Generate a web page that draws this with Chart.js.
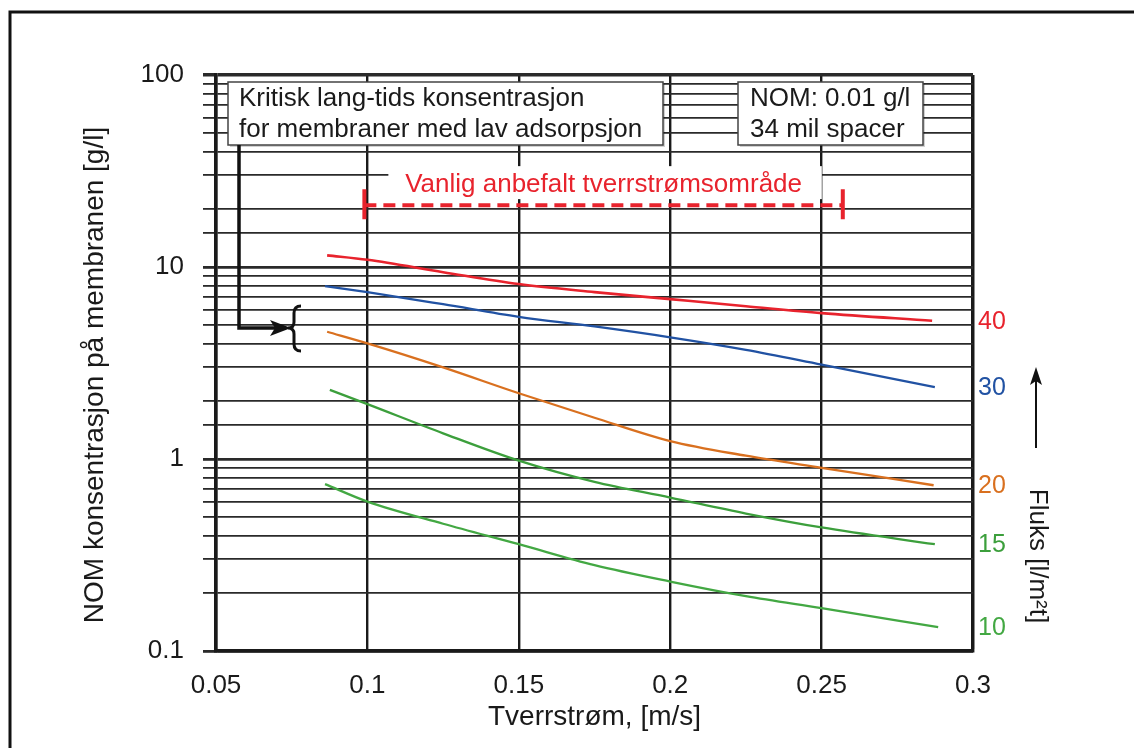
<!DOCTYPE html>
<html>
<head>
<meta charset="utf-8">
<script src="https://cdn.jsdelivr.net/npm/chart.js@4.4.1/dist/chart.umd.min.js"></script>
<style>
  html, body { margin: 0; padding: 0; background: #fff; }
  canvas { display: block; }
</style>
</head>
<body>
<canvas id="fluxChart" width="1134" height="748"></canvas>
<script>
const FONT = '"Liberation Sans", Arial, Helvetica, sans-serif';

// Tverrstrøm [m/s] og NOM-konsentrasjon [g/l] for hver fluks
const flux40X = [0.0867, 0.1, 0.125, 0.15, 0.175, 0.2, 0.225, 0.25, 0.2865];
const flux40Y = [11.5, 10.9, 9.4, 8.15, 7.4, 6.8, 6.25, 5.75, 5.25];

const flux30X = [0.086, 0.1, 0.125, 0.15, 0.175, 0.2, 0.225, 0.25, 0.2874];
const flux30Y = [7.95, 7.4, 6.4, 5.5, 4.9, 4.3, 3.7, 3.1, 2.37];

const flux20X = [0.0867, 0.1, 0.125, 0.15, 0.175, 0.2, 0.225, 0.25, 0.287];
const flux20Y = [4.6, 4.0, 3.0, 2.2, 1.64, 1.24, 1.04, 0.9, 0.73];

const flux15X = [0.0876, 0.1, 0.125, 0.15, 0.175, 0.2, 0.225, 0.25, 0.2874];
const flux15Y = [2.29, 1.93, 1.36, 0.98, 0.76, 0.63, 0.52, 0.44, 0.36];

const flux10X = [0.086, 0.1, 0.125, 0.15, 0.175, 0.2, 0.225, 0.25, 0.2885];
const flux10Y = [0.74, 0.6, 0.46, 0.36, 0.28, 0.23, 0.193, 0.167, 0.133];

const fluxNames = ['40', '30', '20', '15', '10'];
const fluxColors = ['#e8232d', '#2152a3', '#d9701f', '#3c9f3c', '#43a843'];

// anbefalt tverrstrømsområde
const rangeStart = 0.099;
const rangeEnd = 0.257;
const rangeLevel = 21;

const xTicks = [0.05, 0.1, 0.15, 0.2, 0.25, 0.3];

function toPoints(xs, ys) {
    return xs.map((v, i) => ({ x: v, y: ys[i] }));
}

const seriesX = [flux40X, flux30X, flux20X, flux15X, flux10X];
const seriesY = [flux40Y, flux30Y, flux20Y, flux15Y, flux10Y];

const datasets = fluxNames.map((name, i) => ({
    label: name,
    data: toPoints(seriesX[i], seriesY[i]),
    borderColor: fluxColors[i],
    borderWidth: i === 0 ? 2.6 : 2.3,
    pointRadius: 0,
    fill: false,
    cubicInterpolationMode: 'monotone'
}));

function isDecade(v) {
    const l = Math.log10(v);
    return Math.abs(l - Math.round(l)) < 1e-6;
}

function drawBox(ctx, x0, y0, x1, y1) {
    ctx.fillStyle = 'rgba(0,0,0,0.18)';
    ctx.fillRect(x0 + 2, y0 + 2, x1 - x0, y1 - y0);
    ctx.fillStyle = '#fff';
    ctx.fillRect(x0, y0, x1 - x0, y1 - y0);
    ctx.strokeStyle = '#444';
    ctx.lineWidth = 1.5;
    ctx.strokeRect(x0, y0, x1 - x0, y1 - y0);
}

const annotations = {
    id: 'annotations',
    beforeDatasetsDraw(chart) {
        const { ctx, scales: { x, y } } = chart;
        ctx.save();

        // y-aksetittel
        ctx.save();
        ctx.translate(95, 375);
        ctx.rotate(-Math.PI / 2);
        ctx.font = '28px ' + FONT;
        ctx.fillStyle = '#1a1a1a';
        ctx.textAlign = 'center';
        ctx.textBaseline = 'middle';
        ctx.fillText('NOM konsentrasjon på membranen [g/l]', 0, 0);
        ctx.restore();

        // tekstboks for området
        const ry = y.getPixelForValue(rangeLevel);
        const rx0 = x.getPixelForValue(rangeStart);
        const rx1 = x.getPixelForValue(rangeEnd);
        ctx.fillStyle = '#fff';
        ctx.fillRect(rx0 + 24, ry - 39, rx1 - rx0 - 45, 33);
        ctx.fillStyle = '#e8232d';
        ctx.font = '26px ' + FONT;
        ctx.textAlign = 'center';
        ctx.textBaseline = 'middle';
        ctx.fillText('Vanlig anbefalt tverrstrømsområde', (rx0 + rx1) / 2, ry - 20);

        ctx.strokeStyle = '#e8232d';
        ctx.lineWidth = 4;
        ctx.setLineDash([12, 7]);
        ctx.beginPath();
        ctx.moveTo(rx0, ry);
        ctx.lineTo(rx1, ry);
        ctx.stroke();
        ctx.setLineDash([]);
        ctx.beginPath();
        ctx.moveTo(rx0, ry - 16); ctx.lineTo(rx0, ry + 14);
        ctx.moveTo(rx1, ry - 16); ctx.lineTo(rx1, ry + 14);
        ctx.stroke();

        // bokser
        ctx.textAlign = 'left';
        ctx.font = '26px ' + FONT;
        drawBox(ctx, 228, 82, 663, 145);
        ctx.fillStyle = '#1a1a1a';
        ctx.fillText('Kritisk lang-tids konsentrasjon', 239, 99);
        ctx.fillText('for membraner med lav adsorpsjon', 239, 130);

        drawBox(ctx, 738, 82, 923, 145);
        ctx.fillStyle = '#1a1a1a';
        ctx.fillText('NOM: 0.01 g/l', 750, 99);
        ctx.fillText('34 mil spacer', 750, 130);

        // pil til kritisk konsentrasjon
        ctx.strokeStyle = '#111';
        ctx.fillStyle = '#111';
        ctx.lineWidth = 3.5;
        ctx.beginPath();
        ctx.moveTo(239, 145);
        ctx.lineTo(239, 328);
        ctx.lineTo(278, 328);
        ctx.stroke();
        ctx.beginPath();
        ctx.moveTo(291, 328);
        ctx.lineTo(270, 320);
        ctx.lineTo(275, 328);
        ctx.lineTo(270, 336);
        ctx.closePath();
        ctx.fill();

        // klamme
        ctx.lineWidth = 3;
        ctx.beginPath();
        ctx.moveTo(301, 306);
        ctx.quadraticCurveTo(294, 306, 294, 313);
        ctx.lineTo(294, 322);
        ctx.quadraticCurveTo(294, 328, 288, 328);
        ctx.quadraticCurveTo(294, 328, 294, 334);
        ctx.lineTo(294, 344);
        ctx.quadraticCurveTo(294, 351, 301, 351);
        ctx.stroke();

        ctx.restore();
    },
    afterDatasetsDraw(chart) {
        const { ctx, scales: { y } } = chart;
        ctx.save();

        // flukstall ved kurveendene
        ctx.font = '25px ' + FONT;
        ctx.textAlign = 'left';
        ctx.textBaseline = 'middle';
        fluxNames.forEach((name, i) => {
            const ys = seriesY[i];
            ctx.fillStyle = fluxColors[i];
            ctx.fillText(name, 978, y.getPixelForValue(ys[ys.length - 1]) + 1);
        });

        // pil og fluks-tittel
        ctx.strokeStyle = '#111';
        ctx.fillStyle = '#111';
        ctx.lineWidth = 2;
        ctx.beginPath();
        ctx.moveTo(1036, 448);
        ctx.lineTo(1036, 378);
        ctx.stroke();
        ctx.beginPath();
        ctx.moveTo(1036, 367);
        ctx.lineTo(1030, 385);
        ctx.lineTo(1036, 381);
        ctx.lineTo(1042, 385);
        ctx.closePath();
        ctx.fill();

        ctx.save();
        ctx.translate(1037, 556);
        ctx.rotate(Math.PI / 2);
        ctx.font = '26px ' + FONT;
        ctx.textAlign = 'center';
        ctx.fillStyle = '#1a1a1a';
        ctx.fillText('Fluks [l/m²t]', 0, 0);
        ctx.restore();

        // ramme rundt figuren
        ctx.strokeStyle = '#111';
        ctx.lineWidth = 3;
        ctx.beginPath();
        ctx.moveTo(10, 748);
        ctx.lineTo(10, 12);
        ctx.lineTo(1134, 12);
        ctx.stroke();

        ctx.restore();
    }
};

new Chart(document.getElementById('fluxChart'), {
    type: 'line',
    data: { datasets: datasets },
    plugins: [annotations],
    options: {
        responsive: false,
        animation: false,
        events: [],
        layout: { padding: { top: 75, right: 161, left: 0, bottom: 0 } },
        plugins: {
            legend: { display: false },
            tooltip: { enabled: false }
        },
        scales: {
            x: {
                type: 'linear',
                min: 0.05,
                max: 0.3,
                afterFit: (s) => { s.height = 97; },
                afterBuildTicks: (s) => { s.ticks = xTicks.map(v => ({ value: v })); },
                ticks: {
                    padding: 19,
                    color: '#1a1a1a',
                    font: { family: FONT, size: 26 },
                    callback: (v) => Number(v.toFixed(2)).toString()
                },
                grid: {
                    drawTicks: false,
                    color: '#1a1a1a',
                    lineWidth: (c) => (c.tick && Math.abs(c.tick.value - 0.3) < 1e-6 ? 3.5 : 2.4)
                },
                border: { color: '#1a1a1a', width: 3.5 },
                title: {
                    display: true,
                    text: 'Tverrstrøm, [m/s]',
                    color: '#1a1a1a',
                    font: { family: FONT, size: 28 },
                    padding: { top: 0, bottom: 14 }
                }
            },
            y: {
                type: 'logarithmic',
                min: 0.1,
                max: 100,
                afterFit: (s) => { s.width = 216; },
                ticks: {
                    autoSkip: false,
                    padding: 19,
                    color: '#1a1a1a',
                    font: { family: FONT, size: 26 },
                    callback: (v) => (isDecade(v) ? String(Number(v.toPrecision(3))) : '')
                },
                grid: {
                    tickLength: 13,
                    color: '#2a2a2a',
                    lineWidth: (c) => {
                        if (!c.tick) return 1.8;
                        if (Math.abs(c.tick.value - 100) < 1e-6) return 3.5;
                        return isDecade(c.tick.value) ? 2.8 : 1.8;
                    }
                },
                border: { color: '#1a1a1a', width: 3.5 }
            }
        }
    }
});
</script>
</body>
</html>
